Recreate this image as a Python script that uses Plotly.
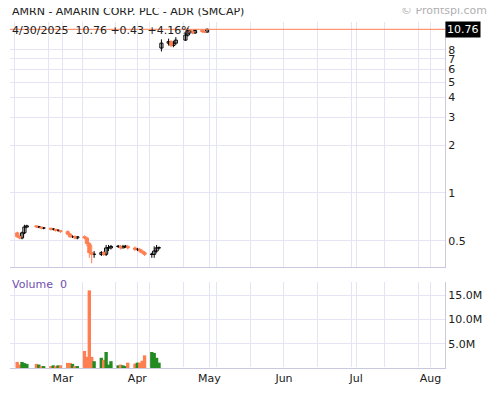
import pandas as pd
import plotly.graph_objs as go
from plotly.subplots import make_subplots

# trading days Feb 10 - Apr 30, 2025
dates = [d for d in pd.bdate_range("2025-02-10", "2025-04-30")
         if d not in (pd.Timestamp("2025-02-17"), pd.Timestamp("2025-04-18"))]

opens = [0.56, 0.53, 0.52, 0.56, 0.61, 0.62, 0.61, 0.61, 0.60, 0.60, 0.59, 0.59, 0.58, 0.58,
         0.57, 0.55, 0.53, 0.53, 0.52, 0.53, 0.52, 0.48, 0.42, 0.41, 0.41, 0.42, 0.41, 0.45,
         0.45, 0.46, 0.46, 0.45, 0.46, 0.46, 0.45, 0.44, 0.44, 0.43, 0.42, 0.41, 0.41, 0.43, 0.45,
         8.2, 8.8, 9.0, 8.5, 8.8, 9.2, 9.9, 10.6, 10.4, 10.2, 10.6, 10.4, 10.33]
closes = [0.53, 0.52, 0.56, 0.61, 0.62, 0.61, 0.61, 0.60, 0.60, 0.59, 0.59, 0.58, 0.58, 0.57,
          0.55, 0.53, 0.53, 0.52, 0.53, 0.52, 0.48, 0.42, 0.41, 0.41, 0.42, 0.41, 0.45, 0.45,
          0.46, 0.46, 0.45, 0.46, 0.46, 0.45, 0.44, 0.44, 0.43, 0.42, 0.41, 0.41, 0.43, 0.45, 0.45,
          8.8, 9.0, 8.5, 8.8, 9.2, 9.9, 10.6, 10.4, 10.2, 10.6, 10.4, 10.33, 10.76]
highs = [0.57, 0.54, 0.57, 0.63, 0.63, 0.62, 0.62, 0.61, 0.61, 0.60, 0.60, 0.59, 0.59, 0.58,
         0.58, 0.56, 0.54, 0.54, 0.53, 0.54, 0.53, 0.49, 0.47, 0.43, 0.43, 0.43, 0.47, 0.47,
         0.47, 0.47, 0.47, 0.47, 0.47, 0.47, 0.46, 0.45, 0.45, 0.44, 0.43, 0.42, 0.46, 0.47, 0.46,
         9.3, 9.4, 9.2, 9.1, 9.6, 10.3, 11.0, 10.8, 10.6, 10.8, 10.7, 10.6, 10.9]
lows = [0.52, 0.51, 0.51, 0.55, 0.60, 0.60, 0.60, 0.59, 0.59, 0.58, 0.58, 0.57, 0.57, 0.56,
        0.54, 0.52, 0.52, 0.51, 0.51, 0.51, 0.46, 0.39, 0.36, 0.39, 0.40, 0.40, 0.40, 0.43,
        0.44, 0.45, 0.44, 0.45, 0.45, 0.44, 0.43, 0.43, 0.42, 0.41, 0.40, 0.39, 0.39, 0.42, 0.44,
        7.8, 8.5, 8.3, 8.3, 8.6, 9.1, 9.7, 10.2, 10.0, 10.1, 10.2, 10.2, 10.3]
# volume in millions (post-split volume not shown)
volume = [1.25, 0.7, 1.25, 1.0, 0.85, 0.85, 0.7, 0.4, 0.2, 0.4, 0.55, 0.2, 0.55, 0.55,
          1.05, 1.05, 0.85, 0.2, 0.4, 3.5, 2.3, 16.0, 2.3, 1.4, 2.1, 1.7, 3.3, 0.7, 1.4, 0.55,
          0.7, 0.55, 0.2, 1.1, 0.9, 1.1, 1.1, 1.5, 2.6, 3.3, 3.1, 2.1, 1.1]
price_ticks = [0.5, 1, 2, 3, 4, 5, 6, 7, 8]

UP, DOWN = "#228B22", "#FF7F50"
GRID = "#e4e4f4"
FONT = "DejaVu Sans"
DAY = 86400000

fig = make_subplots(rows=2, cols=1, shared_xaxes=True, row_heights=[0.74, 0.26],
                    vertical_spacing=0.045)

# candles: bodies as bars, wicks as line segments
up = [c >= o for o, c in zip(opens, closes)]
for is_up, line_col, fill_col in [(True, "black", "white"), (False, DOWN, DOWN)]:
    idx = [i for i in range(len(dates)) if up[i] == is_up]
    wx, wy = [], []
    for i in idx:
        wx += [dates[i], dates[i], None]
        wy += [lows[i], highs[i], None]
    fig.add_trace(go.Scatter(x=wx, y=wy, mode="lines", line=dict(color=line_col, width=1),
                             showlegend=False, hoverinfo="skip"), row=1, col=1)
    fig.add_trace(go.Bar(x=[dates[i] for i in idx],
                         base=[min(opens[i], closes[i]) for i in idx],
                         y=[max(abs(closes[i] - opens[i]), 0.003 * closes[i]) for i in idx],
                         width=1.3 * DAY,
                         marker=dict(color=fill_col, line=dict(color=line_col, width=1)),
                         showlegend=False, hoverinfo="skip"), row=1, col=1)

vol_colors = [UP if u else DOWN for u in up]
fig.add_trace(go.Bar(x=dates[:len(volume)], y=[v * 1e6 for v in volume],
                     marker=dict(color=vol_colors[:len(volume)], line=dict(width=0)),
                     width=1.4 * DAY, showlegend=False), row=2, col=1)

last = closes[-1]
fig.add_hline(y=last, line=dict(color=DOWN, width=1), row=1, col=1)

xr = ["2025-02-07", "2025-08-07"]
fig.update_xaxes(range=xr, showgrid=True, gridcolor=GRID, dtick="M1", tickformat="%b",
                 minor=dict(dtick=14 * DAY, showgrid=True, gridcolor=GRID),
                 ticks="", showline=True, linecolor="#c8c8e0",
                 tickfont=dict(size=11, color="#202020"))
fig.update_xaxes(showticklabels=False, row=1, col=1)

fig.update_yaxes(type="log", range=[-0.464, 1.078], side="right", tickvals=price_ticks,
                 ticktext=[str(t) for t in price_ticks], gridcolor=GRID,
                 showline=True, linecolor="#c8c8e0", ticks="",
                 tickfont=dict(size=11, color="#202020"), row=1, col=1)
fig.update_yaxes(range=[0, 17.7e6], side="right", tickvals=[5e6, 10e6, 15e6],
                 ticktext=["5.0M", "10.0M", "15.0M"], gridcolor=GRID,
                 showline=True, linecolor="#c8c8e0", ticks="",
                 tickfont=dict(size=11, color="#202020"), row=2, col=1)

fig.update_layout(
    width=492, height=392, margin=dict(l=2, r=55, t=14, b=32),
    paper_bgcolor="white", plot_bgcolor="white", barmode="overlay",
    font=dict(family=FONT, size=11, color="#202020"),
    annotations=[
        dict(text="AMRN - AMARIN CORP. PLC - ADR (SMCAP)", xref="paper", yref="paper",
             x=0.0, y=1.0, yshift=11, xanchor="left", yanchor="middle", showarrow=False,
             font=dict(size=11)),
        dict(text="© Profitspi.com", xref="paper", yref="paper", x=1.10, y=1.0, yshift=12,
             xanchor="right", yanchor="middle", showarrow=False,
             font=dict(size=11, color="#b0b0b0")),
        dict(text="4/30/2025  10.76 +0.43 +4.16%", xref="paper", yref="paper",
             x=0.0, y=1.0, yshift=-8, xanchor="left", yanchor="middle", showarrow=False,
             font=dict(size=11)),
        dict(text="Volume  0", xref="paper", yref="paper", x=0.0, y=0.26, yshift=-6,
             xanchor="left", yanchor="middle", showarrow=False,
             font=dict(size=11, color="#7050b0")),
        dict(text="10.76", xref="paper", yref="y", x=1.0, y=1.0318, xanchor="left",
             yanchor="middle", showarrow=False, bgcolor="black",
             font=dict(size=11, color="white")),
    ],
)

fig.write_html("out.html")
